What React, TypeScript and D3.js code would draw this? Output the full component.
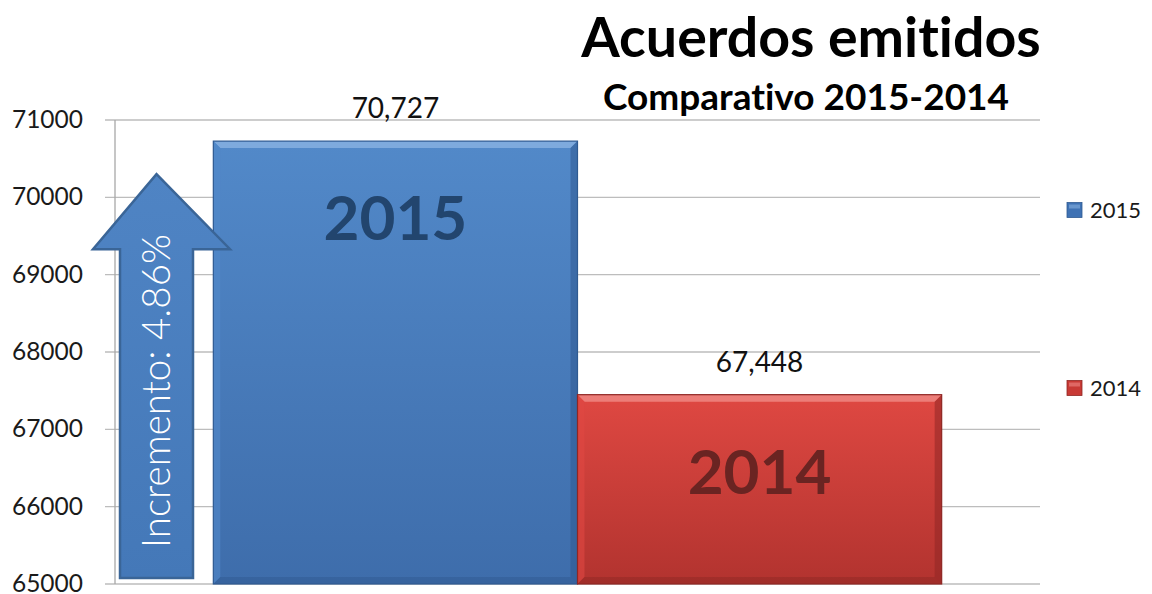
import React from "react";
import * as d3 from "d3";

const categories = ["2015", "2014"];
const values = [70727, 67448];
const valueLabels = ["70,727", "67,448"];
const yTicks = [65000, 66000, 67000, 68000, 69000, 70000, 71000];
const titleText = "Acuerdos emitidos";
const subtitleText = "Comparativo 2015-2014";
const arrowText = "Incremento: 4.86%";
const arrowValue = 70300;

const W = 1152;
const H = 594;
const FONT = "Lato, 'Open Sans', 'Liberation Sans', sans-serif";

const palette: Record<string, { top: string; bottom: string; light: string; dark: string; text: string; legend: string }> = {
  "2015": { top: "#5289c9", bottom: "#3e6dab", light: "#86b0e0", dark: "#2f5a91", text: "#22456e", legend: "#3f72b4" },
  "2014": { top: "#df4842", bottom: "#b2332f", light: "#ee8783", dark: "#8f2724", text: "#6a2422", legend: "#c83a35" },
};

export default function App() {
  const y = d3.scaleLinear().domain([65000, 71000]).range([584, 120]);
  const x = d3.scaleBand<string>().domain(categories).range([115, 1040]).paddingInner(0).paddingOuter(0.27);
  const x0 = 115;
  const x1 = 1040;
  const bev = 7;

  const ay0 = y(65000) - 6;
  const aTip = y(arrowValue);
  const aHead = aTip + 75;
  const sL = 120, sR = 193, hL = 93, hR = 230, cx = (sL + sR) / 2;
  const arrowPath = d3.path();
  arrowPath.moveTo(sL, ay0);
  arrowPath.lineTo(sL, aHead);
  arrowPath.lineTo(hL, aHead);
  arrowPath.lineTo(cx, aTip);
  arrowPath.lineTo(hR, aHead);
  arrowPath.lineTo(sR, aHead);
  arrowPath.lineTo(sR, ay0);
  arrowPath.closePath();

  return (
    <svg width={W} height={H} style={{ position: "absolute", left: 0, top: 0, background: "#fff", fontVariantLigatures: "none" }} fontFamily={FONT}>
      <defs>
        {categories.map((c) => (
          <linearGradient key={c} id={`g${c}`} x1="0" y1="0" x2="0" y2="1">
            <stop offset="0" stopColor={palette[c].top} />
            <stop offset="1" stopColor={palette[c].bottom} />
          </linearGradient>
        ))}
        <linearGradient id="garrow" x1="0" y1="0" x2="0" y2="1">
          <stop offset="0" stopColor="#4f84c4" />
          <stop offset="1" stopColor="#4478b8" />
        </linearGradient>
      </defs>

      {yTicks.map((t) => (
        <line key={t} x1={x0 - 10} x2={x1} y1={y(t)} y2={y(t)} stroke="#bdbdbd" strokeWidth={1.3} />
      ))}
      <line x1={x0} x2={x0} y1={y(71000)} y2={y(65000)} stroke="#a8a8a8" strokeWidth={1.3} />

      {yTicks.map((t) => (
        <text key={t} x={83} y={y(t)} dy="0.33em" textAnchor="end" fontSize={24.5} fill="#1a1a1a">
          {t}
        </text>
      ))}

      {categories.map((c, i) => {
        const bx = x(c)!;
        const bw = x.bandwidth();
        const by = y(values[i]);
        const bb = y(65000);
        const p = palette[c];
        return (
          <g key={c}>
            <rect x={bx} y={by} width={bw} height={bb - by} fill={`url(#g${c})`} />
            <polygon points={`${bx},${by} ${bx + bw},${by} ${bx + bw - bev},${by + bev} ${bx + bev},${by + bev}`} fill={p.light} opacity={0.85} />
            <polygon points={`${bx},${by} ${bx + bev},${by + bev} ${bx + bev},${bb - bev} ${bx},${bb}`} fill={p.top} opacity={0.6} />
            <polygon points={`${bx + bw},${by} ${bx + bw - bev},${by + bev} ${bx + bw - bev},${bb - bev} ${bx + bw},${bb}`} fill={p.dark} opacity={0.55} />
            <polygon points={`${bx},${bb} ${bx + bev},${bb - bev} ${bx + bw - bev},${bb - bev} ${bx + bw},${bb}`} fill={p.dark} opacity={0.5} />
            <rect x={bx} y={by} width={bw} height={bb - by} fill="none" stroke={p.dark} strokeWidth={1.2} />
            <text x={bx + bw / 2} y={by - 23} textAnchor="middle" fontSize={28} fill="#111">
              {valueLabels[i]}
            </text>
            <text x={bx + bw / 2} y={by + 99} textAnchor="middle" fontSize={62} fontWeight={700} fill={p.text}>
              {c}
            </text>
          </g>
        );
      })}

      <path d={arrowPath.toString()} fill="url(#garrow)" stroke="#3a6597" strokeWidth={2.5} strokeLinejoin="miter" />
      <text
        transform={`translate(${cx + 13},391) rotate(-90)`}
        textAnchor="middle"
        fontSize={38.5}
        fontWeight={300}
        fill="#ffffff"
      >
        {arrowText}
      </text>

      <text x={811} y={57} textAnchor="middle" fontSize={55.5} fontWeight={700} fill="#000">
        {titleText}
      </text>
      <text x={806} y={110} textAnchor="middle" fontSize={37} fontWeight={700} fill="#000">
        {subtitleText}
      </text>

      {categories.map((c, i) => {
        const ly = i === 0 ? 210 : 388;
        return (
          <g key={c}>
            <rect x={1067} y={ly - 7.5} width={15} height={15} fill={palette[c].legend} stroke={palette[c].dark} strokeWidth={0.8} />
            <rect x={1069} y={ly - 5.5} width={11} height={4} fill={palette[c].light} opacity={0.6} />
            <text x={1090} y={ly} dy="0.35em" fontSize={22} fill="#1a1a1a">
              {c}
            </text>
          </g>
        );
      })}
    </svg>
  );
}
